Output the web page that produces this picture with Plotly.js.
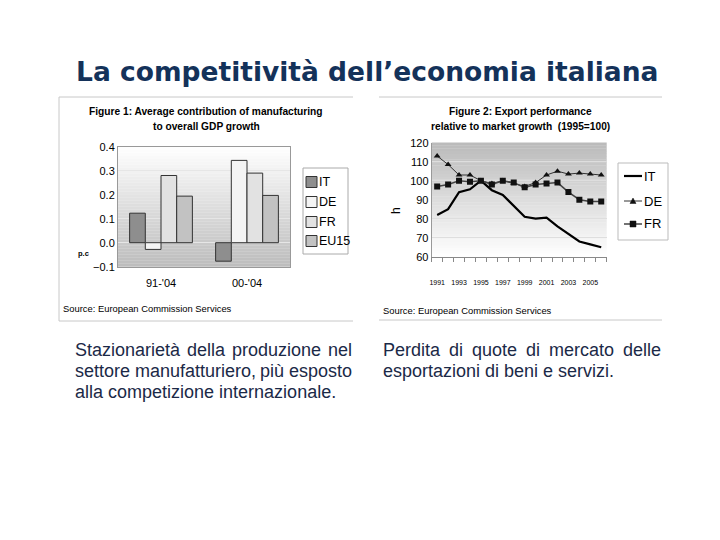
<!DOCTYPE html>
<html>
<head>
<meta charset="utf-8">
<script src="https://cdn.plot.ly/plotly-3.0.1.min.js"></script>
<style>html,body{margin:0;padding:0;background:#fff;}#chart{width:720px;height:540px;}</style>
</head>
<body>
<div id="chart"></div>
<script>
// ---- Data: Figure 1 ----
var periods = ["91-'04", "00-'04"];
var seriesNames1 = ["IT", "DE", "FR", "EU15"];
var valIT1 = [0.123, -0.077];
var valDE1 = [-0.028, 0.343];
var valFR1 = [0.280, 0.290];
var valEU1 = [0.194, 0.197];

// ---- Data: Figure 2 ----
var years = [1991,1992,1993,1994,1995,1996,1997,1998,1999,2000,2001,2002,2003,2004,2005,2006];
var yearLabels = ["1991","1993","1995","1997","1999","2001","2003","2005"];
var yearTicks = [1991,1993,1995,1997,1999,2001,2003,2005];
var seriesNames2 = ["IT", "DE", "FR"];
var exIT = [82, 85, 94, 95.5, 100, 95, 92.5, 87, 81, 80, 80.5, 76, 72, 68, 66.5, 65];
var exDE = [113, 108.5, 103, 103, 100, 98.5, 100, 98.5, 97, 99, 103, 105, 103.5, 104, 103.5, 103];
var exFR = [97, 98, 100, 99.5, 100, 98, 100, 99, 96.5, 98, 98.5, 99, 94, 90, 89, 89];

function X(p){return p/720;}
function Y(p){return 1-p/540;}

var FONT = "Liberation Sans, Arial, sans-serif";
var barColors = ['#8e8e8e', '#f4f4f4', '#e2e2e2', '#c2c2c2'];
var barVals = [valIT1, valDE1, valFR1, valEU1];

var traces = [];
for (var i=0;i<4;i++){
  traces.push({type:'bar', name:seriesNames1[i], x:periods, y:barVals[i], xaxis:'x', yaxis:'y',
    showlegend:false, marker:{color:barColors[i], line:{color:'#333', width:1}}});
}
traces.push({type:'scatter', mode:'lines', name:seriesNames2[0], x:years, y:exIT, xaxis:'x2', yaxis:'y2', showlegend:false,
   line:{color:'#000', width:2.2}});
traces.push({type:'scatter', mode:'lines+markers', name:seriesNames2[1], x:years, y:exDE, xaxis:'x2', yaxis:'y2', showlegend:false,
   line:{color:'#333', width:1}, marker:{symbol:'triangle-up', size:6, color:'#111'}});
traces.push({type:'scatter', mode:'lines+markers', name:seriesNames2[2], x:years, y:exFR, xaxis:'x2', yaxis:'y2', showlegend:false,
   line:{color:'#444', width:1.5}, marker:{symbol:'square', size:6, color:'#111'}});

var shapes = [];
function gradient(xr, yr, topC, botC, n){
  for (var i=0;i<n;i++){
    var t = (i+0.5)/n;
    var c = [0,1,2].map(function(k){return Math.round(botC[k]+(topC[k]-botC[k])*t);});
    shapes.push({type:'rect', xref:xr, yref:yr, x0:0, x1:1, y0:i/n, y1:(i+1)/n+0.002,
      fillcolor:'rgb('+c.join(',')+')', line:{width:0}, layer:'below'});
  }
}
gradient('x domain','y domain',[255,255,255],[188,188,188],40);
gradient('x2 domain','y2 domain',[186,186,186],[255,255,255],40);

function line(x0,y0,x1,y1,col,w){
  shapes.push({type:'line', xref:'paper', yref:'paper', x0:X(x0), y0:Y(y0), x1:X(x1), y1:Y(y1),
    line:{color:col||'#c8c8c8', width:w||1}});
}
function rect(x0,y0,x1,y1,fill,lc,lw){
  shapes.push({type:'rect', xref:'paper', yref:'paper', x0:X(x0), y0:Y(y0), x1:X(x1), y1:Y(y1),
    fillcolor:fill, line:{color:lc||'#333', width:lw===undefined?1:lw}});
}
// picture frames
line(59,97,353,97); line(59,97,59,321); line(59,321,353,321);
line(379,97,662,97); line(379,320,662,320);

var ann = [];
function txt(x,y,s,opt){
  opt = opt||{};
  ann.push({xref:'paper', yref:'paper', x:X(x), y:Y(y), text:s, showarrow:false, borderpad:0,
    xanchor:opt.xa||'left', yanchor:opt.ya||'middle', textangle:opt.angle||0,
    font:{family:opt.family||FONT, size:opt.size||12, color:opt.color||'#000'}});
}

// Legend 1 (manual)
rect(303,168,348,254,'#fff','#aaa',1);
var leg1Y = [182,202,222,241];
for (var i=0;i<4;i++){
  rect(306,leg1Y[i]-5.5,317,leg1Y[i]+5.5,barColors[i],'#333',1);
  txt(318,leg1Y[i],seriesNames1[i],{size:12.5});
}
// Legend 2 (manual)
rect(618,163,668,240,'#fff','#bbb',1);
var leg2Y = [176,201,224];
line(624,leg2Y[0],642,leg2Y[0],'#000',2.2);
line(624,leg2Y[1],642,leg2Y[1],'#333',1);
shapes.push({type:'path', xref:'paper', yref:'paper',
  path:'M '+X(630)+','+Y(leg2Y[1]+2.5)+' L '+X(636)+','+Y(leg2Y[1]+2.5)+' L '+X(633)+','+Y(leg2Y[1]-3)+' Z',
  fillcolor:'#111', line:{color:'#111', width:0.5}});
line(624,leg2Y[2],642,leg2Y[2],'#444',1.5);
rect(630,leg2Y[2]-3,636,leg2Y[2]+3,'#111','#111',0.5);
for (var j=0;j<3;j++) txt(643,leg2Y[j],seriesNames2[j],{size:13});

txt(367,72,"<b>La competitività dell’economia italiana</b>",{xa:'center',size:26.5,color:'#14325a',family:'DejaVu Sans, Verdana, sans-serif'});
txt(206,112,"<b>Figure 1: Average contribution of manufacturing</b>",{xa:'center',size:10.2});
txt(206,127,"<b>to overall GDP growth</b>",{xa:'center',size:10.2});
txt(520,112,"<b>Figure 2: Export performance</b>",{xa:'center',size:10.2});
txt(520,127,"<b>relative to market growth  (1995=100)</b>",{xa:'center',size:10.2});
txt(62,308,"Source: European Commission Services",{size:9.4});
txt(382,310,"Source: European Commission Services",{size:9.4});
txt(77,253,"<b>p.c</b>",{size:7.5});
txt(396,211,"h",{xa:'center',size:12,angle:-90});

// Body text (justified lines measured with canvas)
var bodyCol = '#1b2947';
var BODY = 18;
var ctx = document.createElement('canvas').getContext('2d');
ctx.font = BODY + 'px "Liberation Sans", Arial, sans-serif';
function justified(x0, x1, y, s){
  var words = s.split(' ');
  var ws = words.map(function(w){return ctx.measureText(w).width;});
  var tot = ws.reduce(function(a,b){return a+b;},0);
  var gap = (x1-x0-tot)/(words.length-1);
  var x = x0;
  for (var k=0;k<words.length;k++){
    txt(x,y,words[k],{size:BODY,color:bodyCol});
    x += ws[k]+gap;
  }
}
justified(74,351,350,"Stazionarietà della produzione nel");
justified(74,351,371,"settore manufatturiero, più esposto");
txt(74,392,"alla competizione internazionale.",{size:BODY,color:bodyCol});
justified(382,660,350,"Perdita di quote di mercato delle");
txt(382,371,"esportazioni di beni e servizi.",{size:BODY,color:bodyCol});

var layout = {
  width:720, height:540, margin:{l:0,r:0,t:0,b:0},
  paper_bgcolor:'#fff', plot_bgcolor:'rgba(0,0,0,0)',
  font:{family:FONT, color:'#000'},
  barmode:'group', bargap:0.27, bargroupgap:0,
  showlegend:false,
  xaxis:{domain:[X(118),X(290)], anchor:'y', type:'category', showgrid:false, ticks:'',
    tickfont:{size:11}, ticklabelstandoff:6, showline:true, linecolor:'#999', mirror:true, zeroline:false},
  yaxis:{domain:[Y(266.7),Y(146.7)], anchor:'x', range:[-0.1,0.4], dtick:0.1, tickformat:'.1f',
    tickfont:{size:11}, showgrid:true, gridcolor:'#e6e6e6', zeroline:true, zerolinecolor:'#e6e6e6',
    showline:true, linecolor:'#999', mirror:true, ticks:''},
  xaxis2:{domain:[X(431.7),X(606.7)], anchor:'y2', range:[1990.5,2006.5], tickmode:'array',
    tickvals:yearTicks, ticktext:yearLabels, tickfont:{size:7}, ticks:'', ticklabelstandoff:19,
    showgrid:false, zeroline:false, showline:true, linecolor:'#888',
    minor:{tick0:0.5, dtick:1, ticks:'outside', ticklen:4, tickcolor:'#888', showgrid:false}},
  yaxis2:{domain:[Y(256.7),Y(142.7)], anchor:'x2', range:[60,120], dtick:10, tickfont:{size:11},
    showgrid:true, gridcolor:'#dedede', zeroline:false, showline:true, linecolor:'#999', ticks:''},
  shapes:shapes, annotations:ann
};

Plotly.newPlot('chart', traces, layout, {displayModeBar:false, staticPlot:true});
</script>
</body>
</html>
